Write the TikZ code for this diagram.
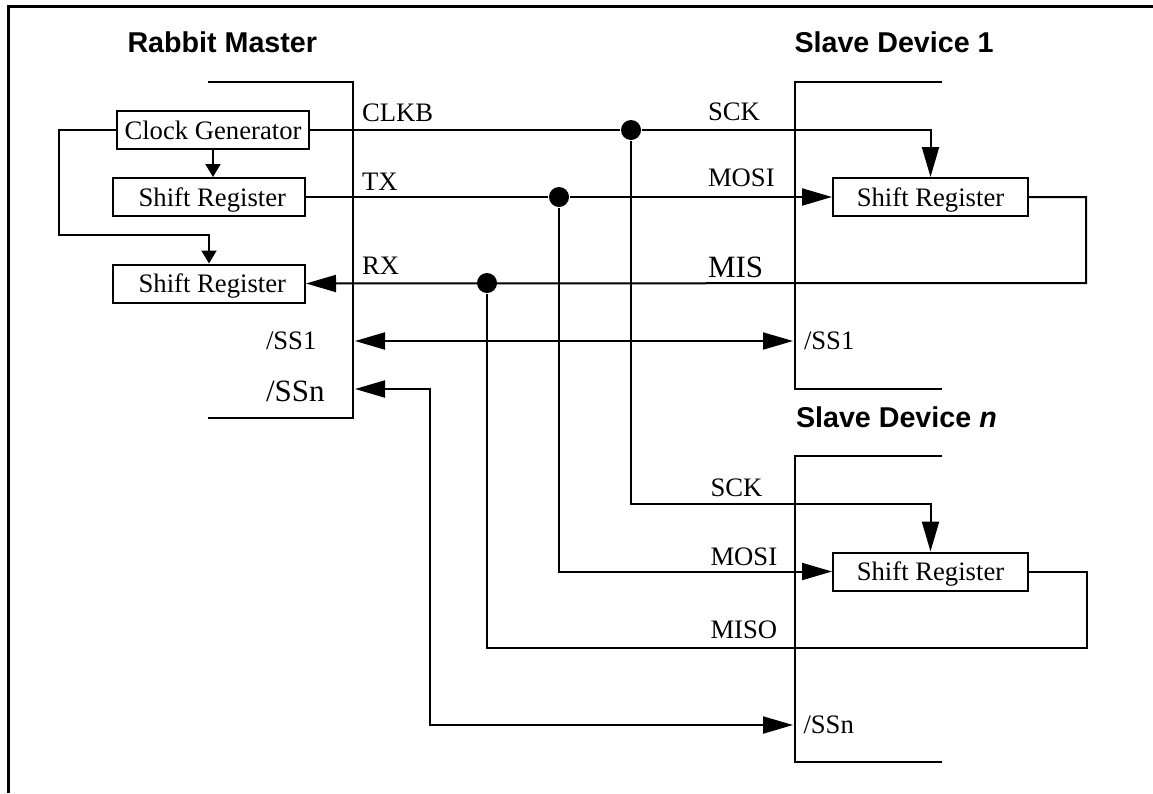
\documentclass[tikz,border=0pt]{standalone}
\usepackage{fontspec}
\setmainfont{Liberation Serif}
\newfontfamily\headfont{Liberation Sans}
\usetikzlibrary{arrows.meta,positioning}

\begin{document}
\begin{tikzpicture}[
        x=0.75pt, y=-0.75pt,
        font=\fontsize{20}{24}\selectfont,
        line width=1.5pt,
        regbox/.style={draw, align=center, inner sep=0pt, text depth=0pt,
            minimum height=28.5pt, minimum width=144pt},
        siglabel/.style={anchor=base west, inner sep=0pt},
        biglabel/.style={siglabel, font=\fontsize{23.25}{28}\selectfont},
        title/.style={siglabel, font=\fontsize{21.5}{26}\selectfont\headfont\bfseries},
        dot/.style={circle, fill=black, inner sep=0pt, minimum size=15pt},
        arrow/.style={-{Triangle[length=22.5pt, width=12.75pt]}},
        twoway/.style={{Triangle[length=22.5pt, width=12.75pt]}-{Triangle[length=22.5pt, width=12.75pt]}},
        smallarrow/.style={-{Triangle[length=9.75pt, width=11.25pt]}}
    ]
    \useasboundingbox (0,0) rectangle (1153,793);
    \draw[line width=2.25pt] (8.5,793) |- (1153,6);

    \node[title] (master) at (126.5,52.7) {Rabbit Master};
    \node[title] (slaveone) at (793.5,52.7) {Slave Device 1};
    \node[title] (slaven) at (795,427) {Slave Device \textit{n}};

    \draw (208,81.5) -| (353,418) -- (208,418);
    \draw (942,81.5) -| (795,389) -- (942,389);
    \draw (942,456) -| (795,762) -- (942,762);

    \node[regbox] (clock) at (213,130) {Clock Generator};
    \node[regbox] (mtx) at (209,197) {\hspace*{5pt}Shift Register};
    \node[regbox] (mrx) at (209,283.5) {\hspace*{5pt}Shift Register};
    \node[regbox, minimum width=146.25pt] (sone) at (930.5,197) {Shift Register};
    \node[regbox, minimum width=146.25pt] (sn) at (930.5,571.5) {Shift Register};

    \node[dot] (dotclk) at (631,130) {};
    \node[dot] (dottx) at (559,197) {};
    \node[dot] (dotrx) at (487,283) {};

    \coordinate (clkturn) at (59,235);
    \coordinate (oneturn) at (1086,283);
    \coordinate (nturn) at (1087,648);
    \coordinate (sckturn) at (631,504);
    \coordinate (ssmone) at (355,341);
    \coordinate (sssone) at (793,341);
    \coordinate (ssmn) at (355,389);
    \coordinate (ssbend) at (430,389);
    \coordinate (ssend) at (793,725);

    \draw[smallarrow] (clock.south) -- (clock.south |- mtx.north);
    \draw[smallarrow] (clock.west) -| (clkturn) -| (mrx.north);

    \draw (clock.east) -- (dotclk);
    \draw[arrow] (dotclk) -| (sone.north);
    \draw (mtx.east) -- (dottx);
    \draw[arrow] (dottx) -- (sone.west);
    \draw[arrow] (sone.east) -| (oneturn) -- (mrx.east);

    \draw[arrow] (dotclk) |- (sckturn) -| (sn.north);
    \draw[arrow] (dottx) |- (sn.west);
    \draw (sn.east) -| (nturn) -| (dotrx);

    \draw[twoway] (ssmone) -- (sssone);
    \draw[twoway] (ssmn) -- (ssbend) |- (ssend);

    \node[siglabel] (clkb) at (361,121) {CLKB};
    \node[siglabel] (tx) at (361,190) {TX};
    \node[siglabel] (rx) at (361,274) {RX};
    \node[siglabel] (ssonem) at (265,349) {/SS1};
    \node[biglabel] (ssnm) at (265,401) {/SSn};
    \node[siglabel] (sckone) at (707,120) {SCK};
    \node[siglabel] (mosione) at (707,186.7) {MOSI};
    \node[biglabel] (mis) at (707,277.7) {MIS};
    \node[siglabel] (ssones) at (803,349) {/SS1};
    \node[siglabel] (sckn) at (709.5,496) {SCK};
    \node[siglabel] (mosin) at (709.5,565) {MOSI};
    \node[siglabel] (mison) at (709.5,638) {MISO};
    \node[siglabel] (ssns) at (802.5,733) {/SSn};
\end{tikzpicture}
\end{document}
